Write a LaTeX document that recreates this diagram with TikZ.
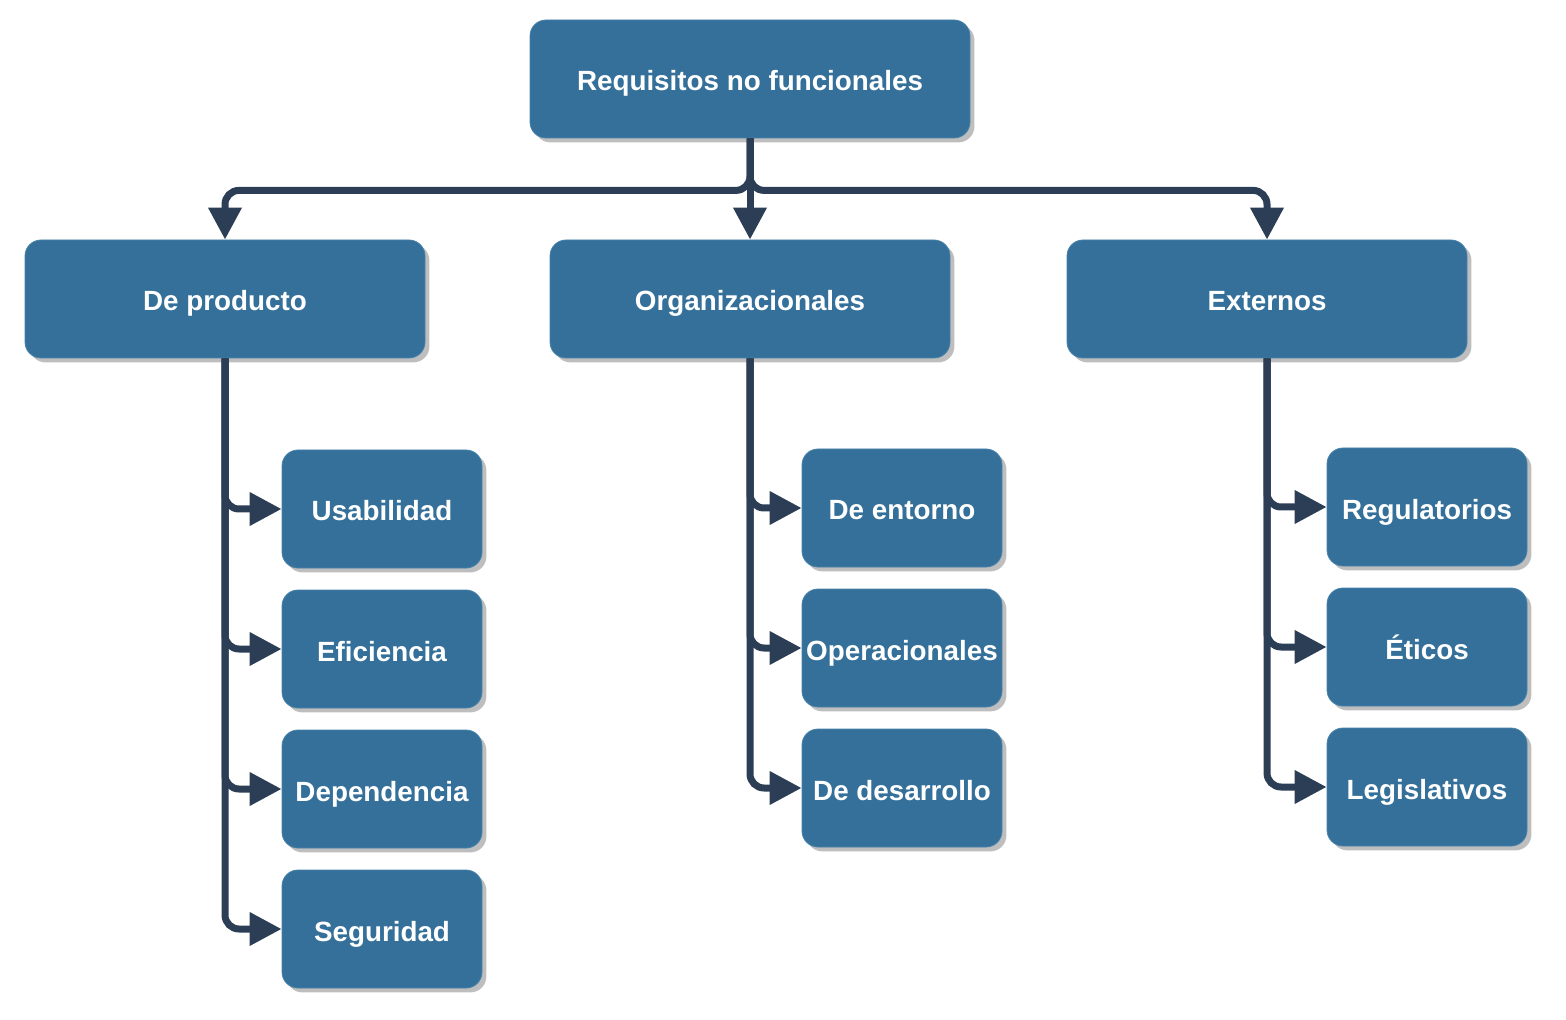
\documentclass[tikz,border=0pt]{standalone}
\usepackage{fontspec}
\setmainfont{Liberation Sans}
\usetikzlibrary{arrows.meta,shadows}
\definecolor{boxblue}{RGB}{52,112,153}
\definecolor{boxedge}{RGB}{70,130,170}
\definecolor{linkdark}{RGB}{44,62,85}
\definecolor{shadowgray}{RGB}{190,190,190}
\tikzset{
  box/.style={rectangle, rounded corners=8pt, fill=boxblue, draw=boxedge, line width=0.4pt,
    text=white, font=\bfseries\fontsize{13.9}{16}\selectfont, inner sep=0pt,
    text height=13pt, text depth=1pt,
    minimum height=59pt,
    drop shadow={shadow xshift=2.2pt, shadow yshift=-2.2pt, fill=shadowgray, opacity=1}},
  bigbox/.style={box, minimum width=200pt},
  smallbox/.style={box, minimum width=100pt},
  link/.style={draw=linkdark, line width=3.5pt, rounded corners=7pt,
    -{Triangle[length=16pt,width=16pt]}}
}
\begin{document}
\begin{tikzpicture}[x=0.5pt,y=-0.5pt]
\useasboundingbox (0,0) rectangle (1566,1020);
\node[box, minimum width=220pt] (root) at (750,79) {Requisitos no funcionales};
\node[bigbox] (prod) at (225,299) {De producto};
\node[bigbox] (org) at (750,299) {Organizacionales};
\node[bigbox] (ext) at (1267,299) {Externos};
% product children
\node[smallbox] (usa) at (382,509) {Usabilidad};
\node[smallbox] (efi) at (382,649) {Eficiencia};
\node[smallbox] (dep) at (382,789) {Dependencia};
\node[smallbox] (seg) at (382,929) {Seguridad};
% org children
\node[smallbox] (ent) at (902,508) {De entorno};
\node[smallbox] (ope) at (902,648) {Operacionales};
\node[smallbox] (des) at (902,788) {De desarrollo};
% ext children
\node[smallbox] (reg) at (1427,507) {Regulatorios};
\node[smallbox] (eti) at (1427,647) {Éticos};
\node[smallbox] (leg) at (1427,787) {Legislativos};
% top connectors
\draw[link] (root.south) -- ++(0,52) -| (prod.north);
\draw[link] (root.south) -- ++(0,52) -| (ext.north);
\draw[link] (root.south) -- (org.north);
% children
\foreach \c in {usa,efi,dep,seg} \draw[link] (prod.south) |- (\c.west);
\foreach \c in {ent,ope,des} \draw[link] (org.south) |- (\c.west);
\foreach \c in {reg,eti,leg} \draw[link] (ext.south) |- (\c.west);
\end{tikzpicture}
\end{document}
